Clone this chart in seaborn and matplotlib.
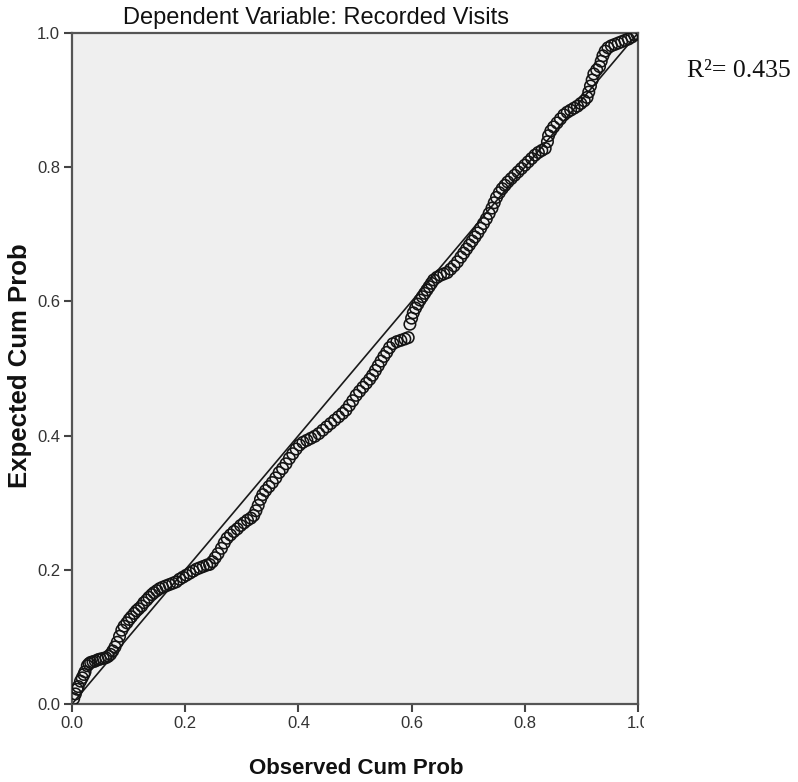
import matplotlib
matplotlib.use("Agg")
import matplotlib.pyplot as plt
import seaborn as sns
import pandas as pd
from matplotlib.patches import Rectangle

# ---- data ----
observed_cum_prob = [
    0.003, 0.006, 0.009, 0.011, 0.015, 0.018, 0.021, 0.023, 0.027, 0.030,
    0.033, 0.037, 0.041, 0.046, 0.050, 0.055, 0.060, 0.064, 0.068, 0.072,
    0.076, 0.080, 0.084, 0.088, 0.092, 0.097, 0.101, 0.105, 0.110, 0.114,
    0.118, 0.123, 0.127, 0.132, 0.136, 0.141, 0.145, 0.150, 0.155, 0.160,
    0.166, 0.172, 0.178, 0.184, 0.190, 0.196, 0.202, 0.208, 0.214, 0.220,
    0.226, 0.232, 0.238, 0.243, 0.248, 0.253, 0.258, 0.264, 0.269, 0.274,
    0.280, 0.286, 0.292, 0.298, 0.304, 0.310, 0.316, 0.321, 0.325, 0.329,
    0.333, 0.337, 0.342, 0.348, 0.354, 0.360, 0.366, 0.372, 0.378, 0.384,
    0.390, 0.396, 0.402, 0.408, 0.415, 0.422, 0.429, 0.436, 0.443, 0.450,
    0.457, 0.464, 0.471, 0.478, 0.484, 0.490, 0.496, 0.502, 0.508, 0.514,
    0.520, 0.526, 0.531, 0.536, 0.541, 0.546, 0.551, 0.556, 0.561, 0.567,
    0.574, 0.581, 0.588, 0.594, 0.597, 0.600, 0.603, 0.607, 0.611, 0.615,
    0.619, 0.623, 0.627, 0.631, 0.635, 0.639, 0.645, 0.651, 0.657, 0.663,
    0.669, 0.675, 0.681, 0.687, 0.692, 0.697, 0.702, 0.707, 0.712, 0.717,
    0.722, 0.727, 0.732, 0.737, 0.742, 0.746, 0.750, 0.755, 0.760, 0.765,
    0.770, 0.776, 0.782, 0.788, 0.794, 0.800, 0.806, 0.812, 0.818, 0.824,
    0.830, 0.836, 0.840, 0.842, 0.846, 0.851, 0.857, 0.863, 0.869, 0.875,
    0.881, 0.887, 0.893, 0.899, 0.905, 0.910, 0.913, 0.916, 0.919, 0.922,
    0.927, 0.932, 0.935, 0.938, 0.942, 0.947, 0.953, 0.959, 0.965, 0.971,
    0.977, 0.983, 0.989, 0.994, 0.998,
]
expected_cum_prob = [
    0.008, 0.015, 0.022, 0.026, 0.034, 0.039, 0.044, 0.048, 0.057, 0.060,
    0.062, 0.063, 0.064, 0.066, 0.067, 0.068, 0.069, 0.071, 0.074, 0.079,
    0.085, 0.092, 0.101, 0.110, 0.116, 0.121, 0.126, 0.130, 0.135, 0.139,
    0.142, 0.146, 0.151, 0.155, 0.159, 0.163, 0.166, 0.169, 0.172, 0.174,
    0.176, 0.178, 0.180, 0.182, 0.186, 0.189, 0.192, 0.195, 0.198, 0.201,
    0.203, 0.205, 0.207, 0.208, 0.212, 0.218, 0.224, 0.232, 0.240, 0.247,
    0.252, 0.257, 0.261, 0.266, 0.270, 0.274, 0.277, 0.281, 0.288, 0.296,
    0.305, 0.312, 0.318, 0.324, 0.330, 0.337, 0.345, 0.351, 0.358, 0.366,
    0.373, 0.380, 0.386, 0.390, 0.393, 0.396, 0.399, 0.403, 0.408, 0.413,
    0.418, 0.423, 0.428, 0.433, 0.438, 0.445, 0.452, 0.460, 0.466, 0.472,
    0.478, 0.484, 0.490, 0.497, 0.504, 0.511, 0.518, 0.524, 0.531, 0.537,
    0.540, 0.542, 0.544, 0.546, 0.566, 0.575, 0.583, 0.590, 0.596, 0.602,
    0.607, 0.612, 0.617, 0.622, 0.627, 0.632, 0.636, 0.639, 0.641, 0.643,
    0.648, 0.653, 0.659, 0.666, 0.672, 0.678, 0.684, 0.690, 0.696, 0.702,
    0.709, 0.716, 0.723, 0.731, 0.739, 0.747, 0.755, 0.762, 0.768, 0.773,
    0.778, 0.783, 0.788, 0.793, 0.798, 0.803, 0.808, 0.813, 0.818, 0.822,
    0.825, 0.828, 0.838, 0.847, 0.854, 0.860, 0.866, 0.872, 0.878, 0.882,
    0.885, 0.888, 0.891, 0.895, 0.899, 0.904, 0.912, 0.921, 0.930, 0.939,
    0.945, 0.950, 0.958, 0.966, 0.973, 0.978, 0.981, 0.983, 0.985, 0.987,
    0.989, 0.991, 0.994, 0.997, 0.999,
]
diag_x = [0.0, 1.0]
diag_y = [0.0, 1.0]
tick_values = [0.0, 0.2, 0.4, 0.6, 0.8, 1.0]
tick_labels = ["0.0", "0.2", "0.4", "0.6", "0.8", "1.0"]
title_text = "Dependent Variable: Recorded Visits"
x_label = "Observed Cum Prob"
y_label = "Expected Cum Prob"
r2_text = "R\u00b2= 0.435"

df = pd.DataFrame({"obs": observed_cum_prob, "exp": expected_cum_prob})

sns.set_theme(style="white")
plt.rcParams["font.family"] = ["Liberation Sans", "DejaVu Sans"]

W, H = 798, 782
fig = plt.figure(figsize=(W / 100, H / 100), dpi=100)
ax = fig.add_axes([72 / W, 1 - 704 / H, (638 - 72) / W, (704 - 33) / H])
ax.set_facecolor("#efefef")

sns.lineplot(x=diag_x, y=diag_y, ax=ax, color="#1a1a1a", linewidth=1.2, zorder=2)
sns.scatterplot(data=df, x="obs", y="exp", ax=ax, marker="o", s=68,
                facecolors="none", edgecolor="#141414", linewidth=1.15,
                zorder=3, legend=False)

ax.set_xlim(0, 1)
ax.set_ylim(0, 1)
ax.set_xticks(tick_values)
ax.set_xticklabels(tick_labels)
ax.set_yticks(tick_values)
ax.set_yticklabels(tick_labels)
ax.set_xlabel("")
ax.set_ylabel("")
for sp in ax.spines.values():
    sp.set_color("#555555")
    sp.set_linewidth(1.6)
    sp.set_visible(True)
ax.tick_params(axis="both", which="major", direction="out", length=5.5,
               width=1.5, color="#444444", labelsize=12, labelcolor="#333333",
               pad=3, bottom=True, left=True)

fig.text(316 / W, 1 - 18 / H, title_text, ha="center", va="center",
         fontsize=17, color="#111111")
fig.text(356 / W, 1 - 769 / H, x_label, ha="center", va="center",
         fontsize=16, fontweight="bold", color="#111111")
fig.text(20 / W, 1 - 366 / H, y_label, ha="center", va="center",
         rotation=90, fontsize=18.5, fontweight="bold", color="#111111")

# the reference image is cropped just right of the axes, cutting the last tick label
fig.patches.append(Rectangle((644 / W, 0), 1, 40 / H + 0.06,
                             transform=fig.transFigure, facecolor="white",
                             edgecolor="none", zorder=10))

fig.text(687 / W, 1 - 77 / H, r2_text, ha="left", va="baseline",
         fontsize=18.5, family=["Liberation Serif", "DejaVu Serif"],
         color="#111111", zorder=11)

fig.savefig("out.png", dpi=100, facecolor="white")
